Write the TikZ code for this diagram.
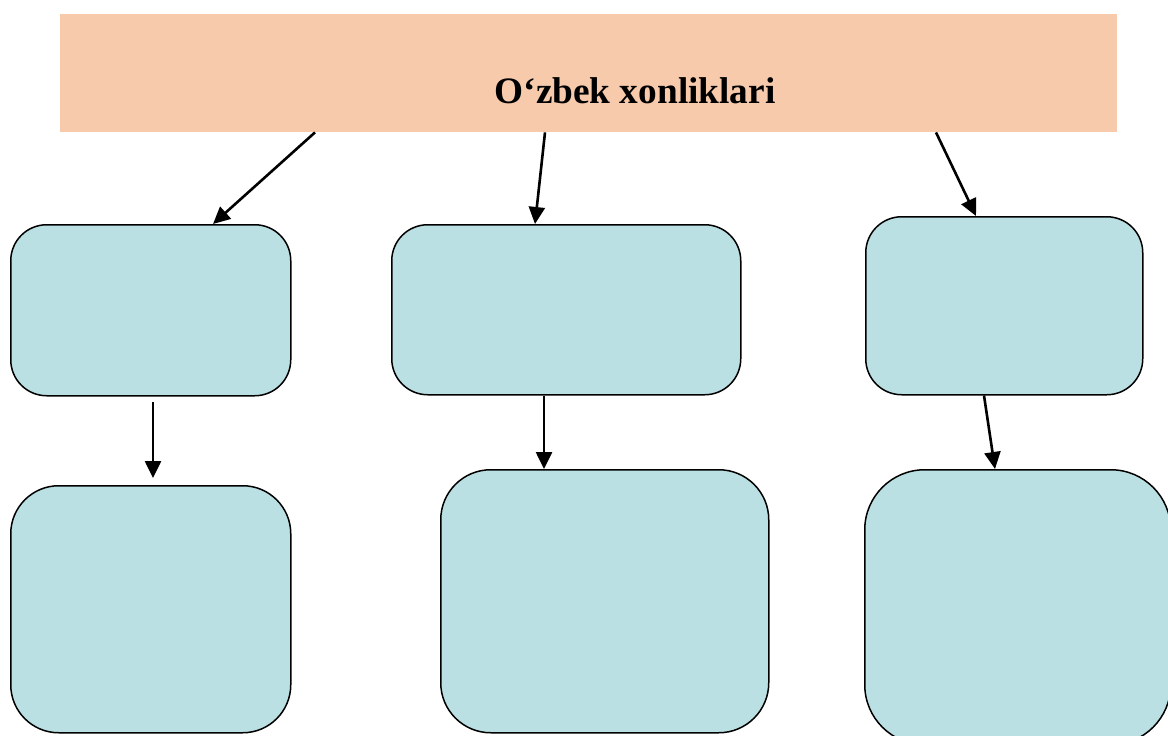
\documentclass[tikz,border=0pt]{standalone}
\usepackage{fontspec}
\setmainfont{Liberation Serif}
\usetikzlibrary{arrows.meta,calc}
\definecolor{peach}{HTML}{F7CAAC}
\definecolor{boxblue}{HTML}{BBE0E3}
\tikzset{
  titlebox/.style={fill=peach,draw=none,inner sep=0pt,anchor=north west},
  bluebox/.style={fill=boxblue,draw=black,line width=1.5pt,inner sep=0pt,anchor=north west},
  conn/.style={line width=2.6pt,-{Triangle[length=17pt,width=16pt]}}
}
\begin{document}
\begin{tikzpicture}[x=1pt,y=-1pt]
\useasboundingbox (0,0) rectangle (1168,736);
\begin{scope}
\clip (0,0) rectangle (1168,736);
\node[titlebox,minimum width=1057pt,minimum height=118pt] (title) at (60,14) {};
\node[font=\bfseries\fontsize{37.3}{40}\selectfont,inner sep=0pt] (titletext) at (635,91) {O‘zbek xonliklari};
% row 1
\node[bluebox,minimum width=280pt,minimum height=171pt,rounded corners=36pt] (a1) at (10,224) {};
\node[bluebox,minimum width=349pt,minimum height=170pt,rounded corners=36pt] (b1) at (391,224) {};
\node[bluebox,minimum width=277pt,minimum height=178pt,rounded corners=36pt] (c1) at (865,216) {};
% row 2
\node[bluebox,minimum width=280pt,minimum height=247pt,rounded corners=48pt] (a2) at (10,485) {};
\node[bluebox,minimum width=328pt,minimum height=263pt,rounded corners=50pt] (b2) at (440,469) {};
\node[bluebox,minimum width=306pt,minimum height=275pt,rounded corners=60pt] (c2) at (864,469) {};
% connectors
\coordinate (s4) at (153,402);
\draw[conn] ([xshift=255pt]title.south west) -- ([xshift=203pt]a1.north west);
\draw[conn] ([xshift=485pt]title.south west) -- ([xshift=144pt]b1.north west);
\draw[conn] ([xshift=876pt]title.south west) -- ([xshift=111pt]c1.north west);
\draw[conn,shorten >=7pt] (s4) -- ([xshift=143pt]a2.north west);
\draw[conn] ([xshift=153pt]b1.south west) -- ([xshift=104pt]b2.north west);
\draw[conn] ([xshift=119pt]c1.south west) -- ([xshift=131pt]c2.north west);
\end{scope}
\end{tikzpicture}
\end{document}
